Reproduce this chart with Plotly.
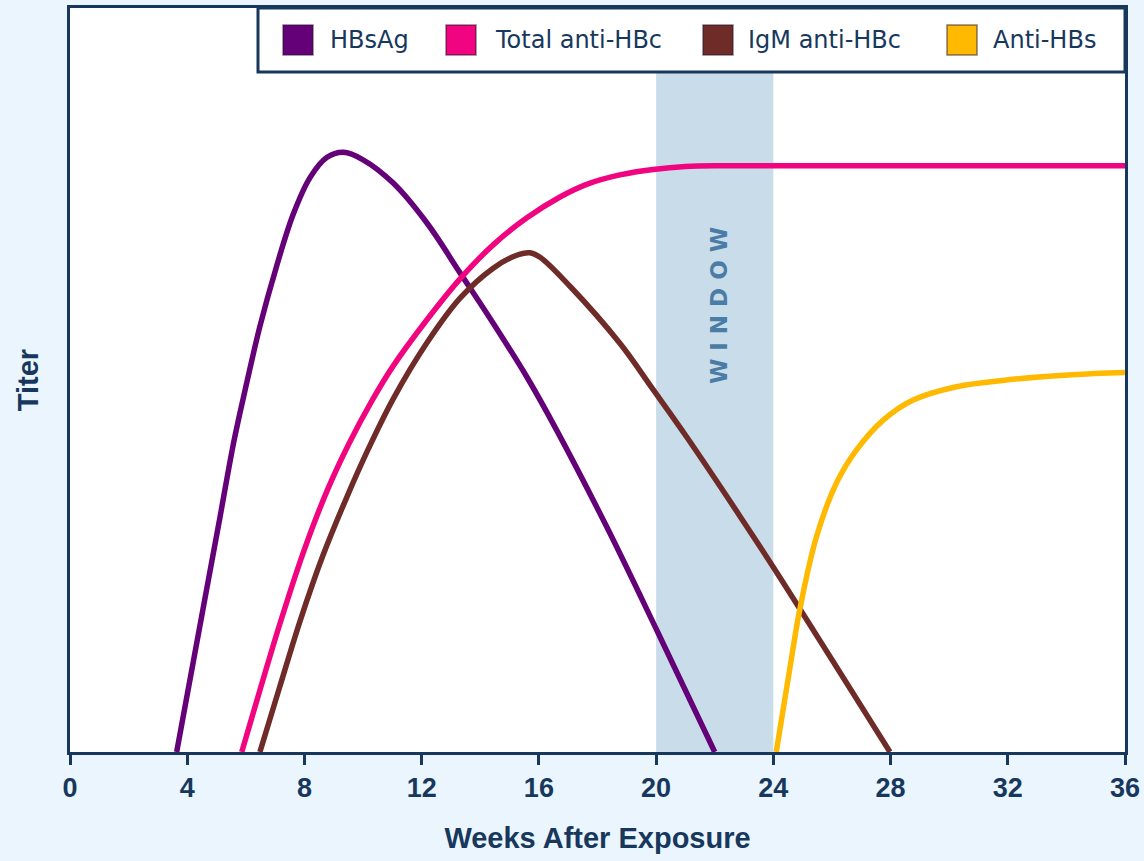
import plotly.graph_objects as go

# ---------------- data ----------------
series_names = ["HBsAg", "Total anti-HBc", "IgM anti-HBc", "Anti-HBs"]

hbsag_weeks = [3.64, 4.21, 4.66, 5.12, 5.60, 6.03, 6.48, 7.05, 7.62, 8.19, 8.76, 9.33,
               10.0, 11.02, 12.18, 13.31, 14.43, 15.59, 16.6, 18.31, 20.02, 22.0]
hbsag_titer = [0, 12.2, 21.8, 31.6, 41.9, 49.6, 57.2, 65.3, 72.3, 77.2, 79.9, 80.6,
               79.6, 76.5, 71.1, 64.4, 57.7, 50.4, 43.3, 30.3, 16.4, 0]

total_weeks = [5.86, 6.48, 7.16, 7.96, 8.76, 9.5, 10.3, 11.03, 12.18, 13.31, 14.45, 15.59,
               16.72, 17.63, 18.8, 19.9, 21.0, 22.5, 36.0]
total_titer = [0, 8.3, 17.2, 26.8, 35.0, 41.3, 47.2, 51.9, 58.1, 63.6, 68.2, 71.8,
               74.6, 76.3, 77.6, 78.3, 78.7, 78.8, 78.8]

igm_weeks = [6.48, 7.16, 7.85, 8.63, 9.44, 10.2, 11.02, 12.18, 13.31, 14.43, 15.2,
             15.69, 16.04, 17.06, 18.77, 19.9, 21.05, 22.86, 23.99, 27.98]
igm_titer = [0, 8.8, 17.6, 26.4, 34.2, 40.9, 47.4, 55.0, 61.0, 65.0, 66.7,
             67.1, 66.5, 62.6, 54.9, 48.7, 42.3, 31.7, 24.9, 0]

antihbs_weeks = [24.1, 24.57, 24.9, 25.47, 26.16, 26.84, 27.75, 28.77, 30.25, 31.96, 34.2, 36.0]
antihbs_titer = [0, 11.4, 19.1, 28.9, 36.2, 40.6, 44.6, 47.3, 49.1, 50.0, 50.7, 51.0]

window_weeks = [20, 24]
window_label = "W I N D O W"

x_ticks = [0, 4, 8, 12, 16, 20, 24, 28, 32, 36]
x_title = "Weeks After Exposure"
y_title = "Titer"

# ---------------- styles ----------------
colors = ["#640078", "#f0047f", "#6e2b28", "#ffb900"]
NAVY = "#17385c"
PAPER = "#eaf5fd"
WINDOW_FILL = "#c9dce9"
WINDOW_TEXT = "#4b7ca6"

W, H = 1144, 861
PLOT_L, PLOT_R, PLOT_T, PLOT_B = 70, 1125, 8, 752


def px_x(p):
    return (p - PLOT_L) / (PLOT_R - PLOT_L)


def px_y(p):
    return (PLOT_B - p) / (PLOT_B - PLOT_T)


fig = go.Figure()

curves = [(hbsag_weeks, hbsag_titer), (total_weeks, total_titer),
          (igm_weeks, igm_titer), (antihbs_weeks, antihbs_titer)]
for name, color, (xs, ys) in zip(series_names, colors, curves):
    fig.add_trace(go.Scatter(
        x=xs, y=ys, mode="lines", name=name, showlegend=False,
        line=dict(color=color, width=5.5, shape="spline", smoothing=1.0),
        hoverinfo="x+y+name",
    ))

# window band
fig.add_shape(type="rect", xref="x", yref="paper",
              x0=window_weeks[0], x1=window_weeks[1], y0=0, y1=1,
              fillcolor=WINDOW_FILL, line=dict(width=0), layer="below")
fig.add_annotation(x=(window_weeks[0] + window_weeks[1]) / 2 + 0.15, y=px_y(306),
                   xref="x", yref="paper", text=window_label, showarrow=False,
                   textangle=-90,
                   font=dict(family="DejaVu Sans", size=23, color=WINDOW_TEXT, weight="bold"))

# legend (box, swatches, labels)
fig.add_shape(type="rect", xref="paper", yref="paper",
              x0=px_x(258), x1=1, y0=px_y(72), y1=1,
              fillcolor="white", line=dict(color=NAVY, width=3), layer="above")
swatch_left = [283, 446, 703, 947]
label_left = [328, 493, 746, 991]
SW = 30
LEG_CY = 40
for name, color, sx, tx in zip(series_names, colors, swatch_left, label_left):
    fig.add_shape(type="rect", xref="paper", yref="paper",
                  x0=px_x(sx), x1=px_x(sx + SW), y0=px_y(LEG_CY + SW / 2), y1=px_y(LEG_CY - SW / 2),
                  fillcolor=color, line=dict(color="rgba(40,20,40,0.55)", width=1.5),
                  layer="above")
    fig.add_annotation(x=px_x(tx), y=px_y(LEG_CY), xref="paper", yref="paper",
                       text=name, showarrow=False, xanchor="left", yanchor="middle",
                       font=dict(family="DejaVu Sans", size=24, color=NAVY))

fig.update_layout(
    width=W, height=H,
    margin=dict(l=PLOT_L, r=W - PLOT_R, t=PLOT_T, b=H - PLOT_B, autoexpand=False),
    paper_bgcolor=PAPER, plot_bgcolor="white",
    showlegend=False,
    font=dict(family="Liberation Sans", color=NAVY),
)
fig.update_xaxes(
    range=[0, 36], tickvals=x_ticks, ticktext=[str(t) for t in x_ticks],
    showgrid=False, zeroline=False,
    showline=True, linecolor=NAVY, linewidth=3, mirror=True,
    ticks="outside", ticklen=10, tickwidth=3, tickcolor=NAVY,
    tickfont=dict(family="Liberation Sans", size=27, color=NAVY, weight="bold"),
    title=dict(text=x_title, standoff=26,
               font=dict(family="Liberation Sans", size=29, color=NAVY, weight="bold")),
    automargin=False,
)
fig.update_yaxes(
    range=[0, 100], showticklabels=False, ticks="",
    showgrid=False, zeroline=False,
    showline=True, linecolor=NAVY, linewidth=3, mirror=True,
    title=dict(text=y_title, standoff=20,
               font=dict(family="Liberation Sans", size=29, color=NAVY, weight="bold")),
    automargin=False,
)

fig.write_html(
    "out.html",
    config={"displayModeBar": False},
    post_script="document.body.style.margin='0px';"
                "document.body.style.background='" + PAPER + "';"
                "document.body.style.overflow='hidden';",
)
